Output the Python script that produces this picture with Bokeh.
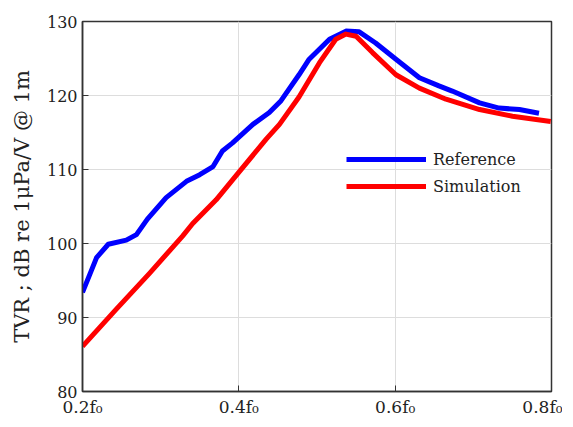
from bokeh.plotting import figure
from bokeh.models import FixedTicker, Range1d, Legend, LegendItem
from bokeh.embed import file_html
from bokeh.resources import INLINE

ref_x = [0.200, 0.210, 0.218, 0.233, 0.256, 0.269, 0.283, 0.307, 0.333, 0.350, 0.367, 0.379, 0.392,
         0.418, 0.439, 0.454, 0.477, 0.490, 0.516, 0.537, 0.554, 0.575, 0.601, 0.631, 0.656,
         0.673, 0.708, 0.733, 0.759, 0.784]
ref_y = [93.4, 96.0, 98.1, 99.9, 100.45, 101.2, 103.3, 106.2, 108.4, 109.3, 110.4, 112.5, 113.6,
         116.1, 117.7, 119.3, 122.8, 124.9, 127.6, 128.7, 128.6, 127.1, 124.9, 122.4, 121.3,
         120.6, 119.0, 118.3, 118.1, 117.6]

sim_x = [0.200, 0.243, 0.286, 0.328, 0.341, 0.371, 0.392, 0.435, 0.452, 0.477, 0.503, 0.524,
         0.537, 0.550, 0.571, 0.601, 0.631, 0.665, 0.708, 0.750, 0.799]
sim_y = [86.1, 91.1, 96.0, 101.0, 102.7, 105.9, 108.6, 114.1, 116.1, 119.8, 124.4, 127.6,
         128.3, 128.0, 125.8, 122.8, 121.0, 119.5, 118.1, 117.2, 116.5]

x_ticks = [0.2, 0.4, 0.6, 0.8]
x_tick_labels = ["0.2f\u2080", "0.4f\u2080", "0.6f\u2080", "0.8f\u2080"]
y_ticks = [80, 90, 100, 110, 120, 130]

FONT = "DejaVu Serif"

p = figure(width=562, height=420, output_backend="svg", toolbar_location=None,
           x_range=Range1d(0.2, 0.8), y_range=Range1d(80, 130),
           min_border_left=82, min_border_right=11, min_border_top=21, min_border_bottom=29)
p.outline_line_color = "#333333"
p.outline_line_width = 1.5

for ax in (p.xaxis[0], p.yaxis[0]):
    ax.major_tick_in = 6
    ax.major_tick_out = 0
    ax.minor_tick_in = 0
    ax.minor_tick_out = 0
    ax.axis_line_color = "#333333"
    ax.axis_line_width = 1.5
    ax.major_tick_line_color = "#333333"
    ax.major_label_text_font = FONT
    ax.major_label_text_font_size = "16px"
    ax.major_label_text_color = "#222222"

p.xaxis.ticker = FixedTicker(ticks=x_ticks)
p.xaxis.major_label_overrides = {t: l for t, l in zip(x_ticks, x_tick_labels)}
p.xaxis.major_label_text_font_size = "17px"
p.xaxis.major_label_standoff = 5
p.yaxis.ticker = FixedTicker(ticks=y_ticks)
p.yaxis.major_label_standoff = 5
p.yaxis.axis_label = "TVR ; dB re 1\u03bcPa/V @ 1m"
p.yaxis.axis_label_text_font = FONT
p.yaxis.axis_label_text_font_style = "normal"
p.yaxis.axis_label_text_font_size = "21px"
p.yaxis.axis_label_text_color = "#222222"
p.yaxis.axis_label_standoff = 10

p.xgrid.grid_line_color = "#dddddd"
p.ygrid.grid_line_color = "#dddddd"
p.xgrid.ticker = FixedTicker(ticks=x_ticks)
p.ygrid.ticker = FixedTicker(ticks=y_ticks)

r1 = p.line(ref_x, ref_y, line_color="#0000ff", line_width=5, line_join="round", line_cap="butt")
r2 = p.line(sim_x, sim_y, line_color="#ff0000", line_width=5, line_join="round", line_cap="butt")

legend = Legend(items=[LegendItem(label="Reference", renderers=[r1]),
                       LegendItem(label="Simulation", renderers=[r2])],
                location=(264, 195), glyph_width=80, glyph_height=20, spacing=7,
                label_text_font=FONT, label_text_font_size="16px",
                label_text_color="#222222", border_line_color=None,
                background_fill_alpha=0, padding=0, margin=0, label_standoff=7)
p.add_layout(legend, "center")

open("out.html", "w").write(file_html(p, INLINE))
